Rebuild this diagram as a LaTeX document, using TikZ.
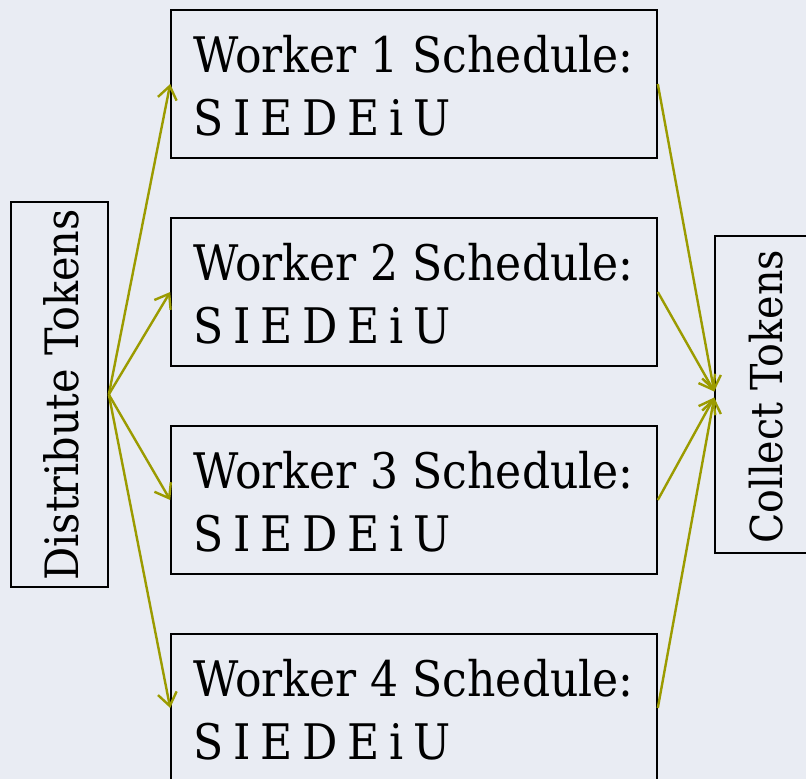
\documentclass[tikz,border=0pt]{standalone}
\usepackage{fontspec}
\setmainfont{DejaVu Serif Condensed}
\newfontfamily\codefont[WordSpace=0.7]{DejaVu Serif Condensed}
\usetikzlibrary{arrows.meta,calc}
\definecolor{bgpaper}{RGB}{233,236,243}
\definecolor{flowolive}{RGB}{155,155,0}
\tikzset{
  framebox/.style={draw=black, line width=1.6pt, rectangle, inner sep=0pt},
  workerbox/.style={framebox, minimum width=486pt, minimum height=148pt},
  bigtext/.style={font=\fontsize{49}{60}\selectfont, inner sep=0pt},
  codetext/.style={font=\codefont\fontsize{49}{60}\selectfont, inner sep=0pt},
  flow/.style={draw=flowolive, line width=2.4pt,
    -{Straight Barb[length=13pt, width=19pt, line width=2.4pt]}}
}
\begin{document}
\begin{tikzpicture}[x=1pt, y=-1pt]
  \useasboundingbox (0,0) rectangle (806,779);
  \fill[bgpaper] (0,0) rectangle (806,779);

  % distributor and collector, text running bottom to top
  \node[framebox, rotate=90, minimum width=385pt, minimum height=97pt] (dist) at (59.5,394.5) {};
  \node[rotate=90, anchor=base, inner sep=0pt, font=\fontsize{46}{56}\selectfont] (distt) at (78,395) {Distribute Tokens};
  \node[framebox, rotate=90, minimum width=317pt, minimum height=94pt] (coll) at (762,394.5) {};
  \node[rotate=90, anchor=base, inner sep=0pt, font=\fontsize{44}{54}\selectfont] (collt) at (782,397) {Collect Tokens};

  % the four worker schedules
  \foreach \i/\yc in {1/84, 2/292, 3/500, 4/708} {
    \node[workerbox] (w\i) at (414,\yc) {};
    \node[bigtext, anchor=base west] (w\i a) at (193,\yc-12) {Worker \i\ Schedule:};
    \node[codetext, anchor=base west] (w\i b) at (193,\yc+51) {S I E D E i U};
  }

  % tokens out and back
  \foreach \i in {1,2,3,4} {
    \draw[flow] (dist.south) -- (w\i.west);
  }
  \draw[flow] (w1.east) -- ($(coll.north)+(0,-3)$);
  \draw[flow] (w2.east) -- ($(coll.north)+(0,-3)$);
  \draw[flow] (w3.east) -- ($(coll.north)+(0,3)$);
  \draw[flow] (w4.east) -- ($(coll.north)+(0,3)$);
\end{tikzpicture}
\end{document}
